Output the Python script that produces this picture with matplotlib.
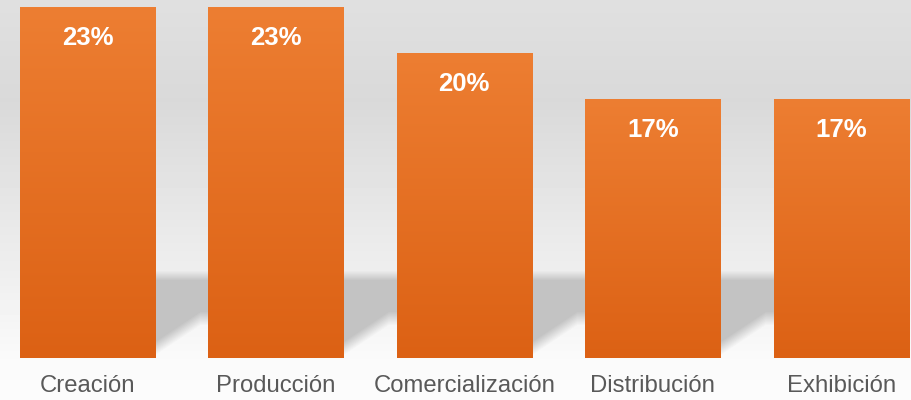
import numpy as np
import matplotlib
matplotlib.use("Agg")
import matplotlib.pyplot as plt

categories = ["Creación", "Producción", "Comercialización", "Distribución", "Exhibición"]
shares = [23, 23, 20, 17, 17]
value_labels = ["23%", "23%", "20%", "17%", "17%"]

plt.rcParams["font.family"] = ["Liberation Sans", "DejaVu Sans"]

W, H = 912, 400
fig = plt.figure(figsize=(W / 100, H / 100), dpi=100)

# background axes in pixel space
bg = fig.add_axes([0, 0, 1, 1], zorder=0)
bg.set_xlim(0, W)
bg.set_ylim(H, 0)
bg.axis("off")

ax = fig.add_axes([0, 42 / H, 1, 1 - 42 / H], zorder=1)
ax.patch.set_alpha(0)
x = np.arange(len(categories))
bars = ax.bar(x, shares, width=0.717, color="none", edgecolor="none")
ax.set_xlim(-0.464, 4.376)
ax.set_ylim(0, 23.46)

# gradient fill for each bar
top_c = np.array([237, 126, 50]) / 255
bot_c = np.array([220, 97, 20]) / 255
t = np.linspace(0, 1, 256)[:, None]
grad = (top_c * (1 - t) + bot_c * t)[:, None, :]
for b in bars:
    x0, y0 = b.get_x(), b.get_y()
    im = ax.imshow(grad, extent=[x0, x0 + b.get_width(), y0, y0 + b.get_height()],
                   aspect="auto", origin="upper", zorder=2)
    im.set_clip_path(b)

for b, lab in zip(bars, value_labels):
    ax.annotate(lab, (b.get_x() + b.get_width() / 2, b.get_height()),
                xytext=(0, -22.5), textcoords="offset points",
                ha="center", va="center", color="white",
                fontsize=18.5, fontweight="bold", zorder=3)

ax.set_xticks(x)
ax.set_xticklabels(categories, fontsize=17.2, color="#595959")
ax.tick_params(axis="x", length=0, pad=12)
ax.set_yticks([])
for s in ax.spines.values():
    s.set_visible(False)

# background: vertical gradient plus shadow between bars
fig.canvas.draw()
rows = np.arange(H)
base = np.interp(rows, [0, 100, 250, 270, 358, 400], [224, 217, 236, 238, 250, 252])
img = np.repeat(base[:, None], W, axis=1).astype(float)

edges = []
for b in bars:
    e = b.get_window_extent()
    edges.append((e.x0, e.x1))
cols = np.arange(W)
yy = rows[:, None]
for (l0, r0), (l1, r1) in zip(edges[:-1], edges[1:]):
    in_gap = (cols >= r0) & (cols <= l1)
    lower = 325 + 30 * np.clip(1 - (cols - r0) / 45, 0, 1)
    top_f = np.clip((yy - 270) / 10, 0, 1)
    bot_f = np.clip((lower[None, :] - yy) / 14, 0, 1)
    f = top_f * bot_f * in_gap[None, :]
    img = img * (1 - f) + 195 * f

bg.imshow(img / 255, cmap="gray", vmin=0, vmax=1, extent=[0, W, H, 0],
          aspect="auto", interpolation="bilinear")

fig.savefig("out.png", dpi=100)
